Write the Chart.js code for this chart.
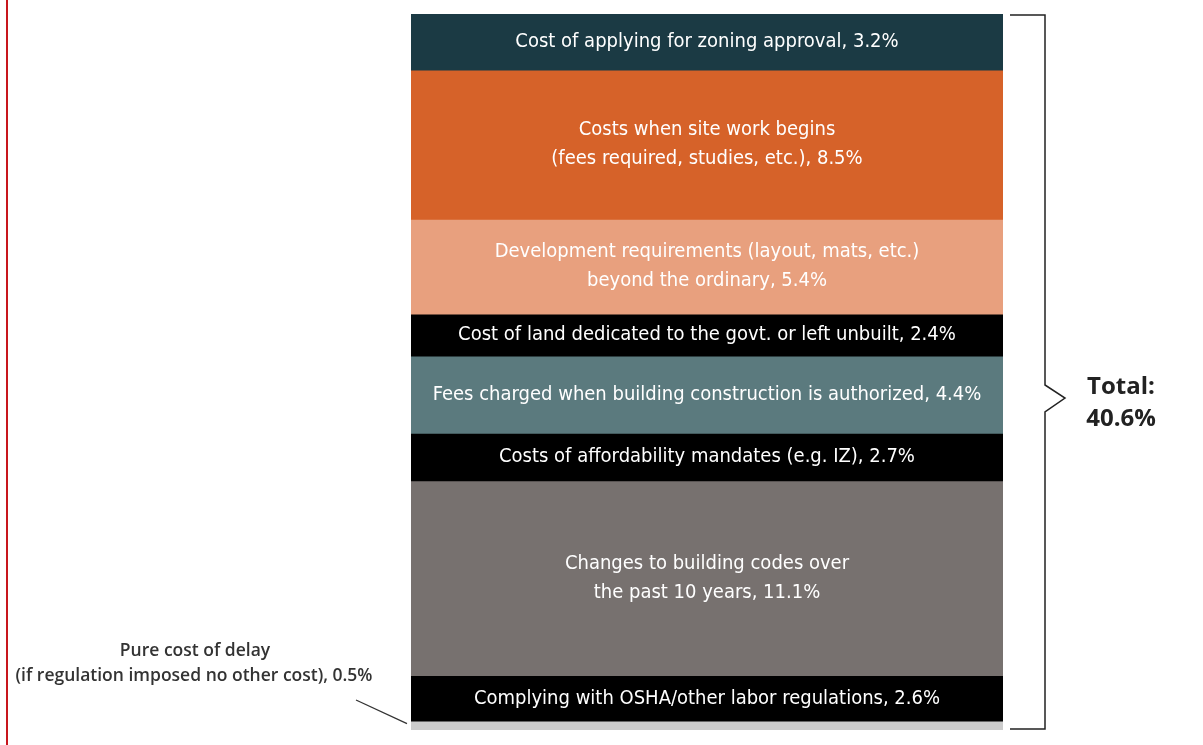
<!DOCTYPE html>
<html>
<head>
<meta charset="utf-8">
<script src="https://cdn.jsdelivr.net/npm/chart.js@4/dist/chart.umd.min.js"></script>
<style>
  html, body { margin: 0; padding: 0; background: #fff; }
  #wrap { position: relative; width: 1203px; height: 745px; }
  #redline { position: absolute; left: 6px; top: 0; width: 2px; height: 745px; background: #c8161d; }
</style>
</head>
<body>
<div id="wrap">
  <div id="redline"></div>
  <canvas id="costChart" width="1203" height="745"></canvas>
</div>
<script>
// Segments, listed top to bottom
const segmentNames = [
  "Zoning approval",
  "Site work",
  "Development requirements",
  "Land dedicated",
  "Construction fees",
  "Affordability mandates",
  "Building codes",
  "Labor regulations",
  "Pure delay",
];
const segmentValues = [3.2, 8.5, 5.4, 2.4, 4.4, 2.7, 11.1, 2.6, 0.5];
const segmentLabels = [
  ["Cost of applying for zoning approval, 3.2%"],
  ["Costs when site work begins", "(fees required, studies, etc.), 8.5%"],
  ["Development requirements (layout, mats, etc.)", "beyond the ordinary, 5.4%"],
  ["Cost of land dedicated to the govt. or left unbuilt, 2.4%"],
  ["Fees charged when building construction is authorized, 4.4%"],
  ["Costs of affordability mandates (e.g. IZ), 2.7%"],
  ["Changes to building codes over", "the past 10 years, 11.1%"],
  ["Complying with OSHA/other labor regulations, 2.6%"],
  [],
];
const segmentColors = [
  "#1b3a44", "#d66229", "#e8a07e", "#000000", "#5b7a7e",
  "#000000", "#77716f", "#000000", "#cccccc",
];
const delayNote = ["Pure cost of delay", "(if regulation imposed no other cost), 0.5%"];
const totalNote = ["Total:", "40.6%"];

const labelFont = "20px 'Liberation Sans Narrow', 'DejaVu Sans Condensed', sans-serif";
const totalMax = segmentValues.reduce((a, b) => a + b, 0);

const segmentText = {
  id: "segmentText",
  afterDatasetsDraw(chart) {
    const c = chart.ctx;
    c.save();
    c.fillStyle = "#ffffff";
    c.font = labelFont;
    c.textAlign = "center";
    c.textBaseline = "middle";
    chart.data.datasets.forEach((ds, i) => {
      const bar = chart.getDatasetMeta(i).data[0];
      const lines = segmentLabels[i];
      const mid = (bar.y + bar.base) / 2;
      lines.forEach((t, k) => {
        c.fillText(t, bar.x, mid + (k - (lines.length - 1) / 2) * 29);
      });
    });
    c.restore();
  },
  afterDraw(chart) {
    const c = chart.ctx;
    const y = chart.scales.y;
    const area = chart.chartArea;
    const yTop = y.getPixelForValue(0) + 1;
    const yBot = y.getPixelForValue(totalMax) - 1;
    const bx = area.right + 42;

    // bracket on the right
    c.save();
    c.strokeStyle = "#222";
    c.lineWidth = 1.5;
    c.beginPath();
    c.moveTo(area.right + 7, yTop);
    c.lineTo(bx, yTop);
    c.lineTo(bx, 385);
    c.lineTo(bx + 20, 398);
    c.lineTo(bx, 412);
    c.lineTo(bx, yBot);
    c.lineTo(area.right + 7, yBot);
    c.stroke();

    c.fillStyle = "#222";
    c.font = "bold 24px 'Open Sans', sans-serif";
    c.textAlign = "center";
    c.textBaseline = "middle";
    c.fillText(totalNote[0], 1121, 387);
    c.fillText(totalNote[1], 1121, 419);

    // note for the delay segment
    const last = segmentValues.length - 1;
    const seg = chart.getDatasetMeta(last).data[0];
    const segMid = (seg.y + seg.base) / 2;
    c.font = "600 17.5px 'Open Sans', sans-serif";
    c.fillStyle = "#333";
    c.fillText(delayNote[0], 195, 651);
    c.fillText(delayNote[1], 194, 676);
    c.strokeStyle = "#333";
    c.lineWidth = 1.3;
    c.beginPath();
    c.moveTo(356, 700);
    c.lineTo(area.left - 4, segMid - 2);
    c.stroke();
    c.restore();
  },
};

new Chart(document.getElementById("costChart").getContext("2d"), {
  type: "bar",
  data: {
    labels: ["Regulatory cost"],
    datasets: segmentNames.map((name, i) => ({
      label: name,
      data: [segmentValues[i]],
      backgroundColor: segmentColors[i],
      borderWidth: 0,
      barPercentage: 1,
      categoryPercentage: 1,
    })),
  },
  options: {
    responsive: false,
    animation: false,
    layout: { padding: { top: 14, bottom: 15, left: 411, right: 200 } },
    plugins: { legend: { display: false }, tooltip: { enabled: false } },
    scales: {
      x: { stacked: true, display: false },
      y: { stacked: true, display: false, reverse: true, min: 0, max: totalMax },
    },
  },
  plugins: [segmentText],
});
</script>
</body>
</html>
